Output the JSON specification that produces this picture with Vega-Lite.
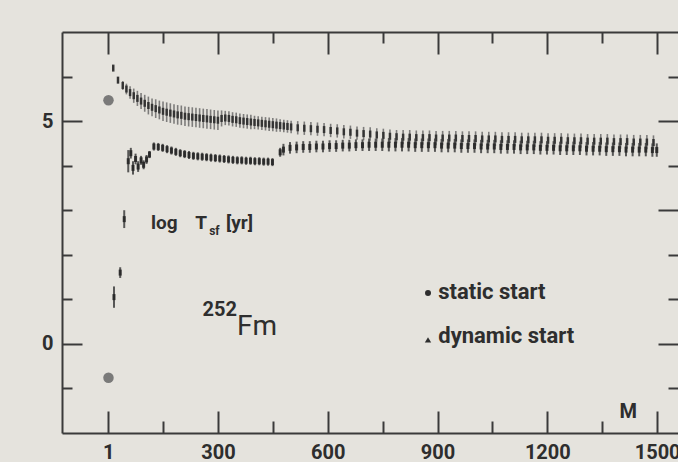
{
  "$schema": "https://vega.github.io/schema/vega-lite/v6.json",
  "width": 616,
  "height": 401,
  "autosize": {"type": "none"},
  "padding": {"left": 62, "top": 32, "right": 0, "bottom": 29},
  "background": "#e5e3dd",
  "config": {
    "view": {"stroke": null},
    "axis": {
      "domainColor": "#3a3a3a", "domainWidth": 2, "tickColor": "#3a3a3a", "tickWidth": 2,
      "labelFont": "Roboto", "labelFontSize": 20, "labelFontWeight": "bold", "labelColor": "#2e2e2e",
      "grid": false, "labelOverlap": false, "labelFlush": false, "labelBound": false
    },
    "text": {"font": "Roboto", "color": "#2e2e2e"}
  },
  "datasets": {
    "static": [
      {"M":14,"y":6.19,"e":0.05},{"M":27,"y":5.92,"e":0.07},{"M":40,"y":5.8,"e":0.1},{"M":50,"y":5.72,"e":0.12},
      {"M":60,"y":5.64,"e":0.14},{"M":70,"y":5.57,"e":0.16},{"M":80,"y":5.51,"e":0.17},{"M":90,"y":5.45,"e":0.18},
      {"M":100,"y":5.4,"e":0.19},{"M":110,"y":5.35,"e":0.2},{"M":120,"y":5.31,"e":0.2},{"M":130,"y":5.28,"e":0.21},
      {"M":140,"y":5.25,"e":0.21},{"M":150,"y":5.22,"e":0.22},{"M":160,"y":5.2,"e":0.22},{"M":170,"y":5.18,"e":0.22},
      {"M":180,"y":5.16,"e":0.22},{"M":190,"y":5.14,"e":0.22},{"M":200,"y":5.13,"e":0.22},{"M":210,"y":5.11,"e":0.22},
      {"M":220,"y":5.1,"e":0.22},{"M":230,"y":5.09,"e":0.22},{"M":240,"y":5.08,"e":0.22},{"M":250,"y":5.07,"e":0.22},
      {"M":260,"y":5.06,"e":0.22},{"M":270,"y":5.05,"e":0.22},{"M":280,"y":5.04,"e":0.22},{"M":290,"y":5.03,"e":0.22},
      {"M":300,"y":5.02,"e":0.22},{"M":310,"y":5.06,"e":0.18},{"M":320,"y":5.07,"e":0.16},{"M":330,"y":5.06,"e":0.16},
      {"M":340,"y":5.04,"e":0.16},{"M":350,"y":5.03,"e":0.16},{"M":360,"y":5.01,"e":0.16},{"M":370,"y":5.0,"e":0.16},
      {"M":380,"y":4.99,"e":0.16},{"M":390,"y":4.98,"e":0.16},{"M":400,"y":4.97,"e":0.15},{"M":410,"y":4.96,"e":0.15},
      {"M":420,"y":4.95,"e":0.15},{"M":430,"y":4.94,"e":0.15},{"M":440,"y":4.93,"e":0.15},{"M":450,"y":4.92,"e":0.15},
      {"M":460,"y":4.91,"e":0.15},{"M":470,"y":4.9,"e":0.14},{"M":480,"y":4.89,"e":0.14},{"M":490,"y":4.88,"e":0.14},
      {"M":500,"y":4.87,"e":0.14},{"M":518,"y":4.85,"e":0.15},{"M":536,"y":4.84,"e":0.15},{"M":554,"y":4.83,"e":0.15},
      {"M":572,"y":4.82,"e":0.15},{"M":590,"y":4.81,"e":0.15},{"M":608,"y":4.79,"e":0.15},{"M":626,"y":4.78,"e":0.15},
      {"M":644,"y":4.76,"e":0.15},{"M":662,"y":4.75,"e":0.15},{"M":680,"y":4.73,"e":0.15},{"M":698,"y":4.72,"e":0.15},
      {"M":716,"y":4.71,"e":0.15},{"M":734,"y":4.69,"e":0.15},{"M":752,"y":4.68,"e":0.15},{"M":770,"y":4.66,"e":0.15},
      {"M":788,"y":4.65,"e":0.15},{"M":806,"y":4.64,"e":0.16},{"M":824,"y":4.64,"e":0.16},{"M":842,"y":4.63,"e":0.16},
      {"M":860,"y":4.63,"e":0.16},{"M":878,"y":4.63,"e":0.16},{"M":896,"y":4.62,"e":0.16},{"M":914,"y":4.62,"e":0.16},
      {"M":932,"y":4.62,"e":0.16},{"M":950,"y":4.62,"e":0.16},{"M":968,"y":4.61,"e":0.16},{"M":986,"y":4.61,"e":0.16},
      {"M":1004,"y":4.61,"e":0.16},{"M":1022,"y":4.6,"e":0.16},{"M":1040,"y":4.6,"e":0.16},{"M":1058,"y":4.6,"e":0.16},
      {"M":1076,"y":4.59,"e":0.16},{"M":1094,"y":4.59,"e":0.16},{"M":1112,"y":4.59,"e":0.16},{"M":1130,"y":4.58,"e":0.16},
      {"M":1148,"y":4.58,"e":0.16},{"M":1166,"y":4.58,"e":0.16},{"M":1184,"y":4.58,"e":0.16},{"M":1202,"y":4.57,"e":0.16},
      {"M":1220,"y":4.57,"e":0.16},{"M":1238,"y":4.57,"e":0.16},{"M":1256,"y":4.56,"e":0.16},{"M":1274,"y":4.56,"e":0.16},
      {"M":1292,"y":4.56,"e":0.16},{"M":1310,"y":4.55,"e":0.16},{"M":1328,"y":4.55,"e":0.16},{"M":1346,"y":4.55,"e":0.16},
      {"M":1364,"y":4.55,"e":0.16},{"M":1382,"y":4.54,"e":0.16},{"M":1400,"y":4.54,"e":0.16},{"M":1418,"y":4.54,"e":0.16},
      {"M":1436,"y":4.53,"e":0.16},{"M":1454,"y":4.53,"e":0.16},{"M":1472,"y":4.53,"e":0.16},{"M":1490,"y":4.52,"e":0.16}
    ],
    "dynamic": [
      {"M":16,"y":1.05,"e":0.24},{"M":33,"y":1.6,"e":0.12},{"M":44,"y":2.8,"e":0.2},
      {"M":55,"y":4.1,"e":0.25},{"M":62,"y":4.28,"e":0.12},{"M":68,"y":3.95,"e":0.15},{"M":75,"y":4.15,"e":0.12},
      {"M":82,"y":3.98,"e":0.12},{"M":90,"y":4.12,"e":0.1},{"M":97,"y":4.02,"e":0.1},{"M":105,"y":4.14,"e":0.1},
      {"M":113,"y":4.25,"e":0.08},{"M":125,"y":4.43,"e":0.09},{"M":137,"y":4.42,"e":0.09},{"M":149,"y":4.4,"e":0.09},
      {"M":161,"y":4.37,"e":0.09},{"M":173,"y":4.34,"e":0.09},{"M":185,"y":4.31,"e":0.09},{"M":197,"y":4.28,"e":0.09},
      {"M":209,"y":4.26,"e":0.09},{"M":221,"y":4.24,"e":0.09},{"M":233,"y":4.22,"e":0.09},{"M":245,"y":4.21,"e":0.09},
      {"M":257,"y":4.2,"e":0.09},{"M":269,"y":4.19,"e":0.09},{"M":281,"y":4.18,"e":0.09},{"M":293,"y":4.17,"e":0.09},
      {"M":305,"y":4.16,"e":0.09},{"M":317,"y":4.15,"e":0.09},{"M":329,"y":4.14,"e":0.09},{"M":341,"y":4.13,"e":0.09},
      {"M":353,"y":4.12,"e":0.09},{"M":365,"y":4.12,"e":0.09},{"M":377,"y":4.11,"e":0.09},{"M":389,"y":4.11,"e":0.09},
      {"M":401,"y":4.1,"e":0.09},{"M":413,"y":4.1,"e":0.09},{"M":425,"y":4.09,"e":0.09},{"M":437,"y":4.09,"e":0.09},
      {"M":449,"y":4.08,"e":0.09},
      {"M":470,"y":4.3,"e":0.1},{"M":479,"y":4.36,"e":0.13},{"M":497,"y":4.4,"e":0.13},{"M":515,"y":4.41,"e":0.13},
      {"M":533,"y":4.42,"e":0.13},{"M":551,"y":4.42,"e":0.13},{"M":569,"y":4.43,"e":0.13},{"M":587,"y":4.43,"e":0.13},
      {"M":605,"y":4.44,"e":0.13},{"M":623,"y":4.44,"e":0.13},{"M":641,"y":4.45,"e":0.13},{"M":659,"y":4.45,"e":0.13},
      {"M":677,"y":4.46,"e":0.13},{"M":695,"y":4.46,"e":0.13},{"M":713,"y":4.47,"e":0.14},{"M":731,"y":4.47,"e":0.14},
      {"M":749,"y":4.47,"e":0.14},{"M":767,"y":4.47,"e":0.15},{"M":785,"y":4.47,"e":0.15},{"M":803,"y":4.47,"e":0.15},
      {"M":821,"y":4.47,"e":0.15},{"M":839,"y":4.46,"e":0.15},{"M":857,"y":4.46,"e":0.15},{"M":875,"y":4.46,"e":0.15},
      {"M":893,"y":4.46,"e":0.15},{"M":911,"y":4.45,"e":0.15},{"M":929,"y":4.45,"e":0.15},{"M":947,"y":4.45,"e":0.15},
      {"M":965,"y":4.44,"e":0.15},{"M":983,"y":4.44,"e":0.15},{"M":1001,"y":4.44,"e":0.15},{"M":1019,"y":4.43,"e":0.15},
      {"M":1037,"y":4.43,"e":0.15},{"M":1055,"y":4.43,"e":0.15},{"M":1073,"y":4.42,"e":0.15},{"M":1091,"y":4.42,"e":0.15},
      {"M":1109,"y":4.42,"e":0.15},{"M":1127,"y":4.41,"e":0.15},{"M":1145,"y":4.41,"e":0.15},{"M":1163,"y":4.41,"e":0.15},
      {"M":1181,"y":4.4,"e":0.15},{"M":1199,"y":4.4,"e":0.15},{"M":1217,"y":4.4,"e":0.15},{"M":1235,"y":4.39,"e":0.15},
      {"M":1253,"y":4.39,"e":0.15},{"M":1271,"y":4.39,"e":0.15},{"M":1289,"y":4.39,"e":0.15},{"M":1307,"y":4.38,"e":0.15},
      {"M":1325,"y":4.38,"e":0.15},{"M":1343,"y":4.38,"e":0.15},{"M":1361,"y":4.37,"e":0.15},{"M":1379,"y":4.37,"e":0.15},
      {"M":1397,"y":4.37,"e":0.15},{"M":1415,"y":4.36,"e":0.15},{"M":1433,"y":4.36,"e":0.15},{"M":1451,"y":4.36,"e":0.15},
      {"M":1469,"y":4.36,"e":0.15},{"M":1487,"y":4.35,"e":0.15},{"M":1499,"y":4.35,"e":0.15}
    ],
    "circles": [{"M":1,"y":5.47},{"M":1,"y":-0.76}],
    "legendMarks": [{"M":874,"y":1.14,"series":"static start"},{"M":874,"y":0.09,"series":"dynamic start"}],
    "labels": [
      {"M":117,"y":2.71,"text":"log","role":"title"},
      {"M":238,"y":2.71,"text":"T","role":"title"},
      {"M":276,"y":2.53,"text":"sf","role":"subscript"},
      {"M":322,"y":2.71,"text":"[yr]","role":"title"},
      {"M":305,"y":0.76,"text":"252","role":"mass"},
      {"M":407,"y":0.38,"text":"Fm","role":"element"},
      {"M":902,"y":1.17,"text":"static start","role":"legend"},
      {"M":902,"y":0.18,"text":"dynamic start","role":"legend"},
      {"M":1421,"y":-1.52,"text":"M","role":"xtitle"}
    ]
  },
  "layer": [
    {
      "encoding": {
        "x": {"field": "M", "type": "quantitative", "title": null,
          "scale": {"domain": [-126, 1557], "nice": false, "zero": false},
          "axis": {"orient": "bottom", "title": null, "values": [0,150,300,450,600,750,900,1050,1200,1350,1500], "format": "d",
            "labelExpr": "datum.value === 0 ? '1' : (datum.value % 300 === 0 ? datum.label : '')",
            "tickSize": {"condition": {"test": "datum.value % 300 === 0", "value": -22}, "value": -12},
            "labelPadding": 31}},
        "y": {"field": "y", "type": "quantitative", "title": null,
          "scale": {"domain": [-2, 7], "nice": false, "zero": false},
          "axis": {"orient": "left", "title": null, "values": [-1,0,1,2,3,4,5,6],
            "labelExpr": "datum.value === 0 || datum.value === 5 ? datum.label : ''",
            "tickSize": {"condition": {"test": "datum.value === 0 || datum.value === 5", "value": -20}, "value": -10},
            "labelPadding": 29}}
      },
      "layer": [
        {"data": {"name": "static"}, "mark": {"type": "errorbar", "color": "#5a5a5a", "thickness": 1.6, "opacity": 0.75},
          "encoding": {"yError": {"field": "e"}}},
        {"data": {"name": "static"}, "mark": {"type": "tick", "orient": "vertical", "size": 7, "thickness": 2.5, "color": "#2a2a2a", "opacity": 0.9}},
        {"data": {"name": "dynamic"}, "mark": {"type": "errorbar", "color": "#3e3e3e", "thickness": 2, "opacity": 0.85},
          "encoding": {"yError": {"field": "e"}}},
        {"data": {"name": "dynamic"}, "mark": {"type": "tick", "orient": "vertical", "size": 6, "thickness": 3, "color": "#262626", "opacity": 0.9}},
        {"data": {"name": "circles"}, "mark": {"type": "point", "filled": true, "size": 110, "color": "#6e6e6e", "opacity": 0.9}},
        {"data": {"name": "legendMarks"}, "transform": [{"filter": "datum.series === 'static start'"}],
          "mark": {"type": "point", "shape": "circle", "filled": true, "size": 36, "color": "#2e2e2e", "opacity": 1}},
        {"data": {"name": "legendMarks"}, "transform": [{"filter": "datum.series === 'dynamic start'"}],
          "mark": {"type": "point", "shape": "triangle-up", "filled": true, "size": 40, "color": "#2e2e2e", "opacity": 1}},
        {"data": {"name": "labels"}, "transform": [{"filter": "datum.role === 'title'"}],
          "mark": {"type": "text", "align": "left", "baseline": "middle", "fontSize": 19, "fontWeight": "bold"},
          "encoding": {"text": {"field": "text"}}},
        {"data": {"name": "labels"}, "transform": [{"filter": "datum.role === 'subscript'"}],
          "mark": {"type": "text", "align": "left", "baseline": "middle", "fontSize": 12, "fontWeight": "bold"},
          "encoding": {"text": {"field": "text"}}},
        {"data": {"name": "labels"}, "transform": [{"filter": "datum.role === 'mass'"}],
          "mark": {"type": "text", "align": "center", "baseline": "middle", "fontSize": 20, "fontWeight": "bold"},
          "encoding": {"text": {"field": "text"}}},
        {"data": {"name": "labels"}, "transform": [{"filter": "datum.role === 'element'"}],
          "mark": {"type": "text", "align": "center", "baseline": "middle", "fontSize": 28, "fontWeight": "normal"},
          "encoding": {"text": {"field": "text"}}},
        {"data": {"name": "labels"}, "transform": [{"filter": "datum.role === 'legend'"}],
          "mark": {"type": "text", "align": "left", "baseline": "middle", "fontSize": 22, "fontWeight": "bold"},
          "encoding": {"text": {"field": "text"}}},
        {"data": {"name": "labels"}, "transform": [{"filter": "datum.role === 'xtitle'"}],
          "mark": {"type": "text", "align": "center", "baseline": "middle", "fontSize": 20, "fontWeight": "bold"},
          "encoding": {"text": {"field": "text"}}}
      ]
    },
    {
      "data": {"name": "legendMarks"},
      "mark": {"type": "point", "opacity": 0},
      "encoding": {
        "x": {"field": "M", "type": "quantitative", "title": null,
          "scale": {"domain": [-126, 1557], "nice": false, "zero": false},
          "axis": {"orient": "top", "title": null, "values": [0,150,300,450,600,750,900,1050,1200,1350,1500], "labels": false,
            "tickSize": {"condition": {"test": "datum.value % 300 === 0", "value": -22}, "value": -11}}},
        "y": {"field": "y", "type": "quantitative", "title": null,
          "scale": {"domain": [-2, 7], "nice": false, "zero": false},
          "axis": {"orient": "right", "title": null, "values": [-1,0,1,2,3,4,5,6], "labels": false, "domain": false,
            "tickSize": {"condition": {"test": "datum.value === 0 || datum.value === 3 || datum.value === 5", "value": -20}, "value": -10}}}
      }
    }
  ],
  "resolve": {"axis": {"x": "independent", "y": "independent"}}
}
